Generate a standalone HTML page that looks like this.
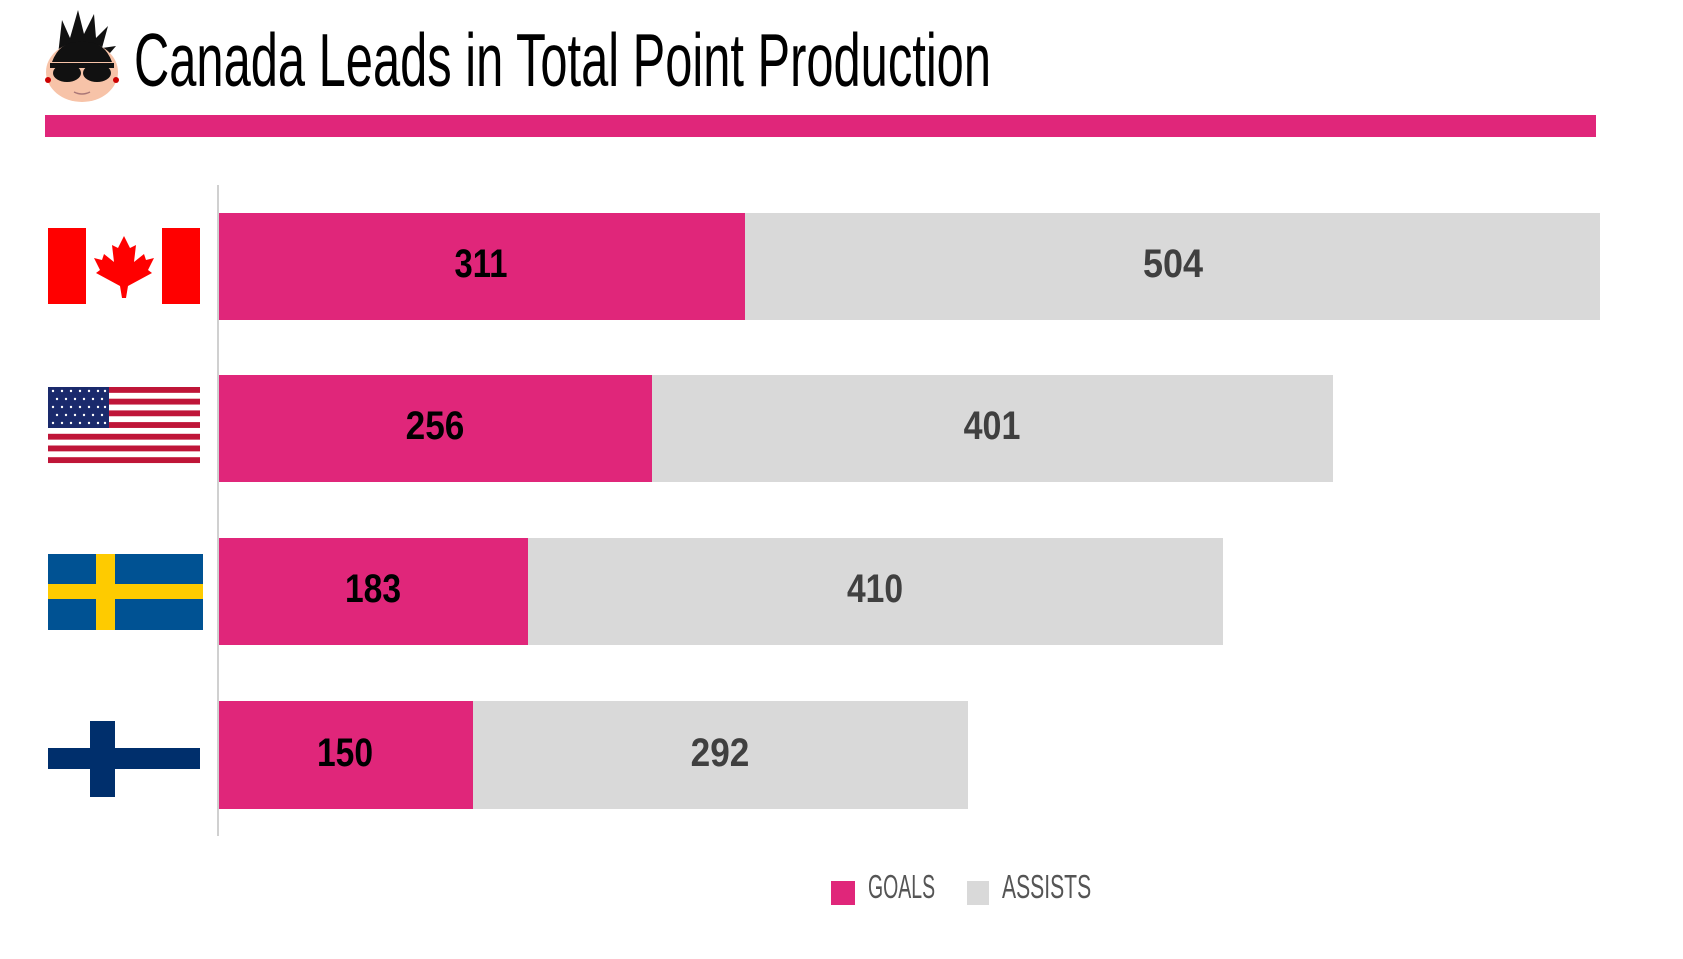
<!DOCTYPE html>
<html><head><meta charset="utf-8"><style>
html,body{margin:0;padding:0;background:#fff;}
svg{display:block;}
</style></head><body>
<svg width="1683" height="959" viewBox="0 0 1683 959" xmlns="http://www.w3.org/2000/svg">
<rect width="1683" height="959" fill="#fff"/>
<!-- logo -->
<g>
 <path d="M58 55 L62 20 L70 38 L78 10 L84 34 L94 14 L96 38 L108 26 L102 48 L116 46 L104 60 Z" fill="#111"/>
 <ellipse cx="82" cy="72" rx="36" ry="30" fill="#f7c3a8"/>
 <path d="M52 62 Q60 40 82 42 Q104 40 112 62 Z" fill="#111"/>
 <rect x="50" y="63" width="64" height="5" fill="#111"/>
 <ellipse cx="67" cy="73" rx="14" ry="9" fill="#111"/>
 <ellipse cx="97" cy="73" rx="14" ry="9" fill="#111"/>
 <circle cx="48" cy="80" r="3" fill="#c00"/><circle cx="116" cy="80" r="3" fill="#c00"/>
 <path d="M74 92 Q82 96 90 92" stroke="#a77" stroke-width="1.5" fill="none"/>
</g>
<text x="134" y="86" font-family="Liberation Sans Narrow, Liberation Sans, sans-serif" font-size="75" fill="#000" textLength="857" lengthAdjust="spacingAndGlyphs">Canada Leads in Total Point Production</text>
<rect x="45" y="115" width="1551" height="22" fill="#e0267a"/>
<!-- axis -->
<rect x="217" y="185" width="2" height="651" fill="#d0d0d0"/>
<!-- bars -->
<rect x="219" y="213" width="526" height="107" fill="#e0267a"/><rect x="745" y="213" width="855" height="107" fill="#d9d9d9"/>
<rect x="219" y="375" width="433" height="107" fill="#e0267a"/><rect x="652" y="375" width="681" height="107" fill="#d9d9d9"/>
<rect x="219" y="538" width="309" height="107" fill="#e0267a"/><rect x="528" y="538" width="695" height="107" fill="#d9d9d9"/>
<rect x="219" y="701" width="254" height="108" fill="#e0267a"/><rect x="473" y="701" width="495" height="108" fill="#d9d9d9"/>
<g font-family="Liberation Sans, sans-serif" font-weight="bold" font-size="40" text-anchor="middle">
 <text transform="translate(481,277) scale(0.82,1)" fill="#000">311</text>
 <text transform="translate(1173,277) scale(0.9,1)" fill="#404040">504</text>
 <text transform="translate(435,439) scale(0.88,1)" fill="#000">256</text>
 <text transform="translate(992,439) scale(0.85,1)" fill="#404040">401</text>
 <text transform="translate(373,602) scale(0.84,1)" fill="#000">183</text>
 <text transform="translate(875,602) scale(0.84,1)" fill="#404040">410</text>
 <text transform="translate(345,766) scale(0.84,1)" fill="#000">150</text>
 <text transform="translate(720,766) scale(0.88,1)" fill="#404040">292</text>
</g>
<!-- Canada flag -->
<rect x="48" y="228" width="38" height="76" fill="#ff0000"/>
<rect x="86" y="228" width="76" height="76" fill="#fff"/>
<rect x="162" y="228" width="38" height="76" fill="#ff0000"/>
<path d="M124 236 L130 248 L136 245 L134 262 L144 254 L146 260 L154 258 L148 270 L152 273 L128 286 L126 298 L122 298 L120 286 L96 273 L100 270 L94 258 L102 260 L104 254 L114 262 L112 245 L118 248 Z" fill="#ff0000"/>
<!-- USA flag -->
<g>
 <rect x="48" y="387" width="152" height="76" fill="#fff"/>
 <g fill="#bf1538">
  <rect x="48" y="387" width="152" height="5.85"/><rect x="48" y="398.7" width="152" height="5.85"/>
  <rect x="48" y="410.4" width="152" height="5.85"/><rect x="48" y="422.1" width="152" height="5.85"/>
  <rect x="48" y="433.8" width="152" height="5.85"/><rect x="48" y="445.5" width="152" height="5.85"/>
  <rect x="48" y="457.2" width="152" height="5.85"/>
 </g>
 <rect x="48" y="387" width="61" height="41" fill="#1a2a6c"/>
 <g fill="#fff">
  <circle cx="53" cy="391" r="1.2"/><circle cx="62" cy="391" r="1.2"/><circle cx="71" cy="391" r="1.2"/><circle cx="80" cy="391" r="1.2"/><circle cx="89" cy="391" r="1.2"/><circle cx="98" cy="391" r="1.2"/><circle cx="105" cy="391" r="1.2"/>
  <circle cx="57" cy="399" r="1.2"/><circle cx="66" cy="399" r="1.2"/><circle cx="75" cy="399" r="1.2"/><circle cx="84" cy="399" r="1.2"/><circle cx="93" cy="399" r="1.2"/><circle cx="102" cy="399" r="1.2"/>
  <circle cx="53" cy="407" r="1.2"/><circle cx="62" cy="407" r="1.2"/><circle cx="71" cy="407" r="1.2"/><circle cx="80" cy="407" r="1.2"/><circle cx="89" cy="407" r="1.2"/><circle cx="98" cy="407" r="1.2"/><circle cx="105" cy="407" r="1.2"/>
  <circle cx="57" cy="415" r="1.2"/><circle cx="66" cy="415" r="1.2"/><circle cx="75" cy="415" r="1.2"/><circle cx="84" cy="415" r="1.2"/><circle cx="93" cy="415" r="1.2"/><circle cx="102" cy="415" r="1.2"/>
  <circle cx="53" cy="423" r="1.2"/><circle cx="62" cy="423" r="1.2"/><circle cx="71" cy="423" r="1.2"/><circle cx="80" cy="423" r="1.2"/><circle cx="89" cy="423" r="1.2"/><circle cx="98" cy="423" r="1.2"/><circle cx="105" cy="423" r="1.2"/>
 </g>
</g>
<!-- Sweden flag -->
<rect x="48" y="554" width="155" height="76" fill="#005293"/>
<rect x="96" y="554" width="19" height="76" fill="#fecb00"/>
<rect x="48" y="584" width="155" height="15" fill="#fecb00"/>
<!-- Finland flag -->
<rect x="48" y="721" width="152" height="76" fill="#fff"/>
<rect x="90" y="721" width="25" height="76" fill="#002f6c"/>
<rect x="48" y="748" width="152" height="21" fill="#002f6c"/>
<!-- legend -->
<rect x="831" y="881" width="24" height="24" fill="#e0267a"/>
<rect x="967" y="881" width="22" height="24" fill="#d9d9d9"/>
<g font-family="Liberation Sans, sans-serif" font-size="33" fill="#555">
 <text transform="translate(868,898) scale(0.59,1)">GOALS</text>
 <text transform="translate(1002,898) scale(0.64,1)">ASSISTS</text>
</g>
</svg>
</body></html>
